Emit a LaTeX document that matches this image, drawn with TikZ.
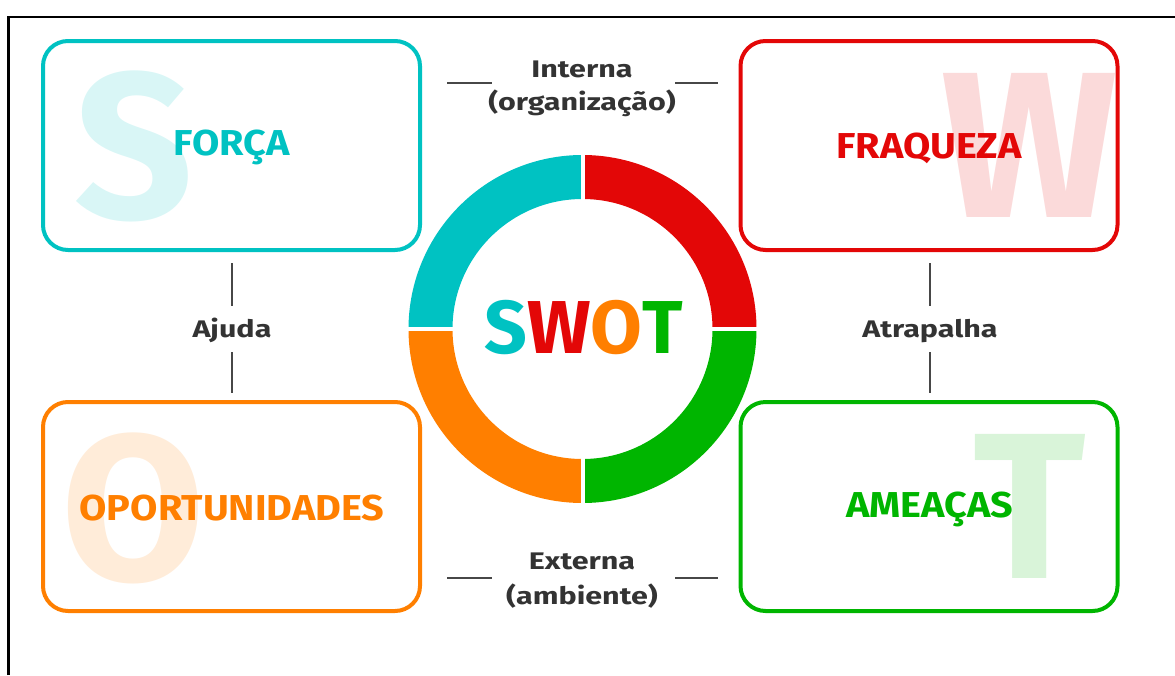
\documentclass[tikz,border=0pt]{standalone}
\usepackage{fontspec}
\setmainfont{Fira Sans}
\newfontfamily\titlefont[FakeStretch=1.1]{Fira Sans}
\newfontfamily\labelfont[FakeStretch=1.27]{Fira Sans}
\usetikzlibrary{positioning, calc}
\definecolor{cyanS}{HTML}{00C2C2}
\definecolor{redW}{HTML}{E30707}
\definecolor{orangeO}{HTML}{FF7F00}
\definecolor{greenT}{HTML}{00B500}
\definecolor{inkgray}{HTML}{333333}
\tikzset{swotbox/.style={draw=#1, line width=4pt, rounded corners=25pt, minimum width=377pt, minimum height=209pt, inner sep=0pt}}
\tikzset{bigletter/.style={text=#1, anchor=base, inner sep=0pt, font=\fontsize{208}{208}\selectfont\bfseries}}
\tikzset{boxtitle/.style={text=#1, anchor=base, inner sep=0pt, font=\titlefont\fontsize{36}{40}\selectfont\bfseries}}
\tikzset{sidelabel/.style={text=inkgray, anchor=base, inner sep=0pt, font=\labelfont\fontsize{24}{30}\selectfont\bfseries}}
\tikzset{tick/.style={draw=inkgray!90, line width=1.6pt}}

\begin{document}
\begin{tikzpicture}[x=1pt, y=-1pt]
      \useasboundingbox (0,0) rectangle (1175,675);
      \draw[line width=2.5pt] (8.5,675) -- (8.5,17) -- (1175,17);

      % background letters
      \node[bigletter=cyanS!15] (bigS) at (133.5,218) {S};
      \node[bigletter=redW!15] (bigW) at (1030,217) {W};
      \node[bigletter=orangeO!15] (bigO) at (133,580) {O};
      \node[bigletter=greenT!15] (bigT) at (1029.5,578) {T};

      % the four boxes
      \node[swotbox=cyanS] (boxS) at (231.5,145.5) {};
      \node[swotbox=redW] (boxW) at (929,145.5) {};
      \node[swotbox=orangeO] (boxO) at (231.5,506.5) {};
      \node[swotbox=greenT] (boxT) at (929,506.5) {};

      \node[boxtitle=cyanS] (forca) at (231.5,155) {FORÇA};
      \node[boxtitle=redW] (fraqueza) at (929,158) {FRAQUEZA};
      \node[boxtitle=orangeO] (oport) at (232,520) {OPORTUNIDADES};
      \node[boxtitle=greenT] (ameacas) at (930,517) {AMEAÇAS};

      % ring
      \coordinate (ring) at (582.5,329);
      \foreach \a/\c in {180/cyanS, 270/redW, 0/greenT, 90/orangeO} {
        \fill[\c] ($(ring)+(\a:174)$) arc[start angle=\a, delta angle=90, radius=174]
          -- ($(ring)+(\a+90:130)$) arc[start angle=\a+90, delta angle=-90, radius=130] -- cycle;
      }
      \draw[white, line width=4pt] ($(ring)-(180,0)$) -- ($(ring)+(180,0)$);
      \draw[white, line width=4pt] ($(ring)-(0,180)$) -- ($(ring)+(0,180)$);

      \node[anchor=base, inner sep=0pt, font=\fontsize{75}{75}\selectfont\bfseries] (swot) at (583.5,353)
        {\textcolor{cyanS}{S}\textcolor{redW}{W}\textcolor{orangeO}{O}\textcolor{greenT}{T}};

      % axis labels
      \node[sidelabel] (intA) at (582,77) {Interna};
      \node[sidelabel] (intB) at (582,110) {(organização)};
      \node[sidelabel] (extA) at (582,569) {Externa};
      \node[sidelabel] (extB) at (582,604) {(ambiente)};
      \node[sidelabel] (ajuda) at (232,337) {Ajuda};
      \node[sidelabel] (atrap) at (930,337) {Atrapalha};

      \draw[tick] (447,83) -- (492,83);
      \draw[tick] (675,83) -- (718,83);
      \draw[tick] (447,578) -- (492,578);
      \draw[tick] (675,578) -- (718,578);
      \draw[tick] (232,263) -- (232,306);
      \draw[tick] (232,352) -- (232,393);
      \draw[tick] (930,263) -- (930,306);
      \draw[tick] (930,352) -- (930,393);

    \end{tikzpicture}
\end{document}
